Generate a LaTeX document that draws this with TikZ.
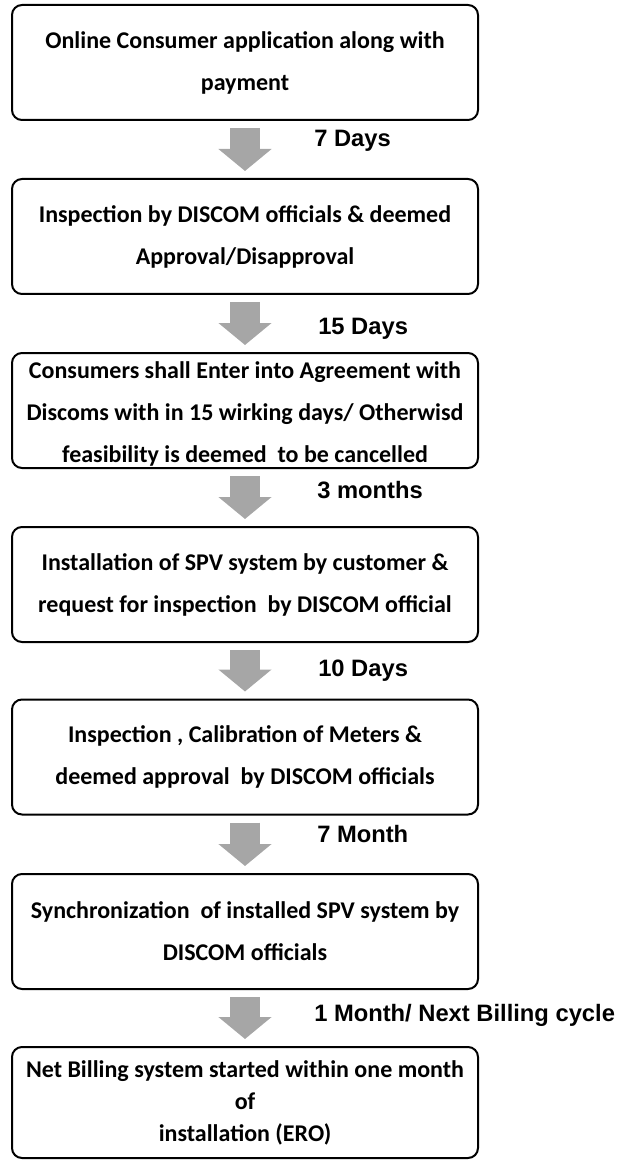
\documentclass[tikz,border=0pt]{standalone}
\usepackage{fontspec}
\setmainfont{Liberation Sans}
\newfontfamily\carlito{Carlito}
\usetikzlibrary{arrows.meta}
\definecolor{arrowgray}{RGB}{166,166,166}
\tikzset{
  stepbox/.style={draw, line width=1.5pt, rounded corners=7.5pt, minimum width=349.5pt, minimum height=86.25pt, align=center, inner sep=2pt, font=\carlito\bfseries\fontsize{18}{31.5}\selectfont},
  flowarrow/.style={arrowgray, line width=23pt, -{Triangle[width=39pt,length=16.5pt]}},
  daylabel/.style={anchor=base west, inner sep=0pt, font=\bfseries\fontsize{17.8}{20}\selectfont}
}
\begin{document}
\begin{tikzpicture}[x=0.75pt,y=-0.75pt]
\useasboundingbox (0,0) rectangle (621,1162);
\node[stepbox] (apply) at (245,62.5) {Online Consumer application along with\\ payment};
\node[stepbox] (inspect) at (245,236.5) {Inspection by DISCOM officials \& deemed\\ Approval/Disapproval};
\node[stepbox, inner ysep=0pt] (agree) at (245,410.5) {\rule{0pt}{18pt}Consumers shall Enter into Agreement with\\ Discoms with in 15 wirking days/ Otherwisd\\ feasibility is deemed~ to be cancelled};
\node[stepbox] (install) at (245,584.5) {Installation of SPV system by customer \&\\ request for inspection~ by DISCOM official};
\node[stepbox] (meters) at (245,757) {Inspection , Calibration of Meters \&\\ deemed approval~ by DISCOM officials};
\node[stepbox] (sync) at (245,931.5) {Synchronization~ of installed SPV system by\\ DISCOM officials};
\node[stepbox, minimum height=83.25pt, font=\carlito\bfseries\fontsize{18}{24}\selectfont] (billing) at (245,1102.5) {Net Billing system started within one month\\ of\\ installation (ERO)};

\draw[flowarrow] ([yshift=-5.25pt]apply.south) -- ([yshift=5.25pt]inspect.north);
\draw[flowarrow] ([yshift=-5.25pt]inspect.south) -- ([yshift=5.25pt]agree.north);
\draw[flowarrow] ([yshift=-5.25pt]agree.south) -- ([yshift=5.25pt]install.north);
\draw[flowarrow] ([yshift=-5.25pt]install.south) -- ([yshift=5.25pt]meters.north);
\draw[flowarrow] ([yshift=-5.25pt]meters.south) -- ([yshift=5.25pt]sync.north);
\draw[flowarrow] ([yshift=-5.25pt]sync.south) -- ([yshift=5.25pt]billing.north);

\node[daylabel] (week) at (314,146.5) {7 Days};
\node[daylabel] (fortnight) at (318,334.5) {15 Days};
\node[daylabel] (quarter) at (317,498.5) {3 months};
\node[daylabel] (tendays) at (318,676.5) {10 Days};
\node[daylabel] (sevenmonth) at (317,842.5) {7 Month};
\node[daylabel] (nextcycle) at (314,1021.5) {1 Month/ Next Billing cycle};
\end{tikzpicture}
\end{document}
